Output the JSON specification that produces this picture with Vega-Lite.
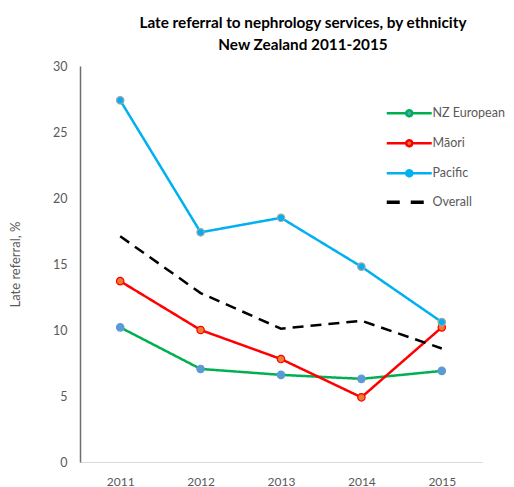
{
  "$schema": "https://vega.github.io/schema/vega-lite/v6.json",
  "width": 402,
  "height": 396,
  "autosize": {"type": "none"},
  "padding": {"left": 80, "top": 66, "right": 32, "bottom": 25},
  "background": "white",
  "title": {
    "text": ["Late referral to nephrology services, by ethnicity", "New Zealand  2011-2015"],
    "font": "Lato",
    "fontSize": 15.3,
    "fontWeight": "bold",
    "color": "#000000",
    "lineHeight": 22,
    "anchor": "middle",
    "dx": 22,
    "offset": 7
  },
  "config": {
    "view": {"stroke": null},
    "font": "Lato"
  },
  "data": {
    "values": [
      {"year": "2011", "series": "NZ European", "value": 10.2},
      {"year": "2012", "series": "NZ European", "value": 7.05},
      {"year": "2013", "series": "NZ European", "value": 6.6},
      {"year": "2014", "series": "NZ European", "value": 6.3},
      {"year": "2015", "series": "NZ European", "value": 6.9},
      {"year": "2011", "series": "Māori", "value": 13.7},
      {"year": "2012", "series": "Māori", "value": 10.0},
      {"year": "2013", "series": "Māori", "value": 7.8},
      {"year": "2014", "series": "Māori", "value": 4.9},
      {"year": "2015", "series": "Māori", "value": 10.2},
      {"year": "2011", "series": "Pacific", "value": 27.4},
      {"year": "2012", "series": "Pacific", "value": 17.4},
      {"year": "2013", "series": "Pacific", "value": 18.5},
      {"year": "2014", "series": "Pacific", "value": 14.8},
      {"year": "2015", "series": "Pacific", "value": 10.6},
      {"year": "2011", "series": "Overall", "value": 17.1},
      {"year": "2012", "series": "Overall", "value": 12.8},
      {"year": "2013", "series": "Overall", "value": 10.1},
      {"year": "2014", "series": "Overall", "value": 10.7},
      {"year": "2015", "series": "Overall", "value": 8.6}
    ]
  },
  "encoding": {
    "x": {
      "field": "year",
      "type": "ordinal",
      "scale": {"type": "point", "padding": 0.5},
      "axis": {
        "title": null,
        "labelAngle": 0,
        "labelFont": "Lato",
        "labelFontSize": 12,
        "labelColor": "#595959",
        "labelPadding": 14,
        "ticks": false,
        "domainColor": "#d9d9d9",
        "domainWidth": 1,
        "grid": false
      }
    },
    "y": {
      "field": "value",
      "type": "quantitative",
      "scale": {"domain": [0, 30], "nice": false, "zero": true},
      "axis": {
        "title": "Late referral, %",
        "titleFont": "Lato",
        "titleFontSize": 13,
        "titleFontWeight": "normal",
        "titleColor": "#595959",
        "titlePadding": 30,
        "values": [0, 5, 10, 15, 20, 25, 30],
        "labelFont": "Lato",
        "labelFontSize": 12.5,
        "labelColor": "#595959",
        "labelPadding": 13,
        "ticks": false,
        "grid": false,
        "domainColor": "#6e6e6e",
        "domainWidth": 1.5
      }
    }
  },
  "layer": [
    {
      "mark": {"type": "line"},
      "encoding": {
        "stroke": {
          "field": "series",
          "type": "nominal",
          "scale": {
            "domain": ["NZ European", "Māori", "Pacific", "Overall"],
            "range": ["#00B050", "#FF0000", "#00B0F0", "#000000"]
          },
          "legend": {
            "title": null,
            "orient": "none",
            "legendX": 323,
            "legendY": 41,
            "symbolType": "M-3,0H3",
            "symbolSize": 225,
            "symbolStrokeWidth": 2.5,
            "labelFont": "Lato",
            "labelFontSize": 12.5,
            "labelColor": "#595959",
            "labelOffset": 17,
            "rowPadding": 13,
            "encode": {
              "symbols": {
                "update": {
                  "shape": {"signal": "datum.value === 'Overall' ? 'M-3,0H3' : 'M-3,0H-0.4M0.4,0H3M-0.4,0A0.4,0.4 0 1,0 0.4,0A0.4,0.4 0 1,0 -0.4,0Z'"},
                  "fill": {"signal": "datum.value === 'Māori' ? '#ED7D31' : datum.value === 'Pacific' ? '#00B0F0' : datum.value === 'NZ European' ? '#5B9BD5' : 'transparent'"},
                  "fillOpacity": {"value": 1},
                  "strokeDash": {"signal": "datum.value === 'Overall' ? [13, 11] : [1, 0]"},
                  "strokeWidth": {"signal": "datum.value === 'Overall' ? 3.5 : 2.5"}
                }
              }
            }
          }
        },
        "strokeDash": {
          "field": "series",
          "type": "nominal",
          "scale": {
            "domain": ["NZ European", "Māori", "Pacific", "Overall"],
            "range": [[1, 0], [1, 0], [1, 0], [11, 7]]
          },
          "legend": null
        },
        "strokeWidth": {
          "field": "series",
          "type": "nominal",
          "scale": {
            "domain": ["NZ European", "Māori", "Pacific", "Overall"],
            "range": [2.5, 2.5, 2.5, 3.5]
          },
          "legend": null
        }
      }
    },
    {
      "transform": [{"filter": "datum.series !== 'Overall'"}],
      "mark": {"type": "point", "filled": true, "size": 55, "opacity": 1, "strokeWidth": 1.2},
      "encoding": {
        "fill": {
          "field": "series",
          "type": "nominal",
          "scale": {
            "domain": ["NZ European", "Māori", "Pacific", "Overall"],
            "range": ["#5B9BD5", "#ED7D31", "#00B0F0", "transparent"]
          },
          "legend": null
        },
        "stroke": {
          "field": "series",
          "type": "nominal",
          "scale": {
            "domain": ["NZ European", "Māori", "Pacific", "Overall"],
            "range": ["#5B9BD5", "#FF0000", "#A5A5A5", "transparent"]
          },
          "legend": null
        }
      }
    }
  ],
  "resolve": {"scale": {"stroke": "independent"}, "legend": {"stroke": "independent"}}
}
